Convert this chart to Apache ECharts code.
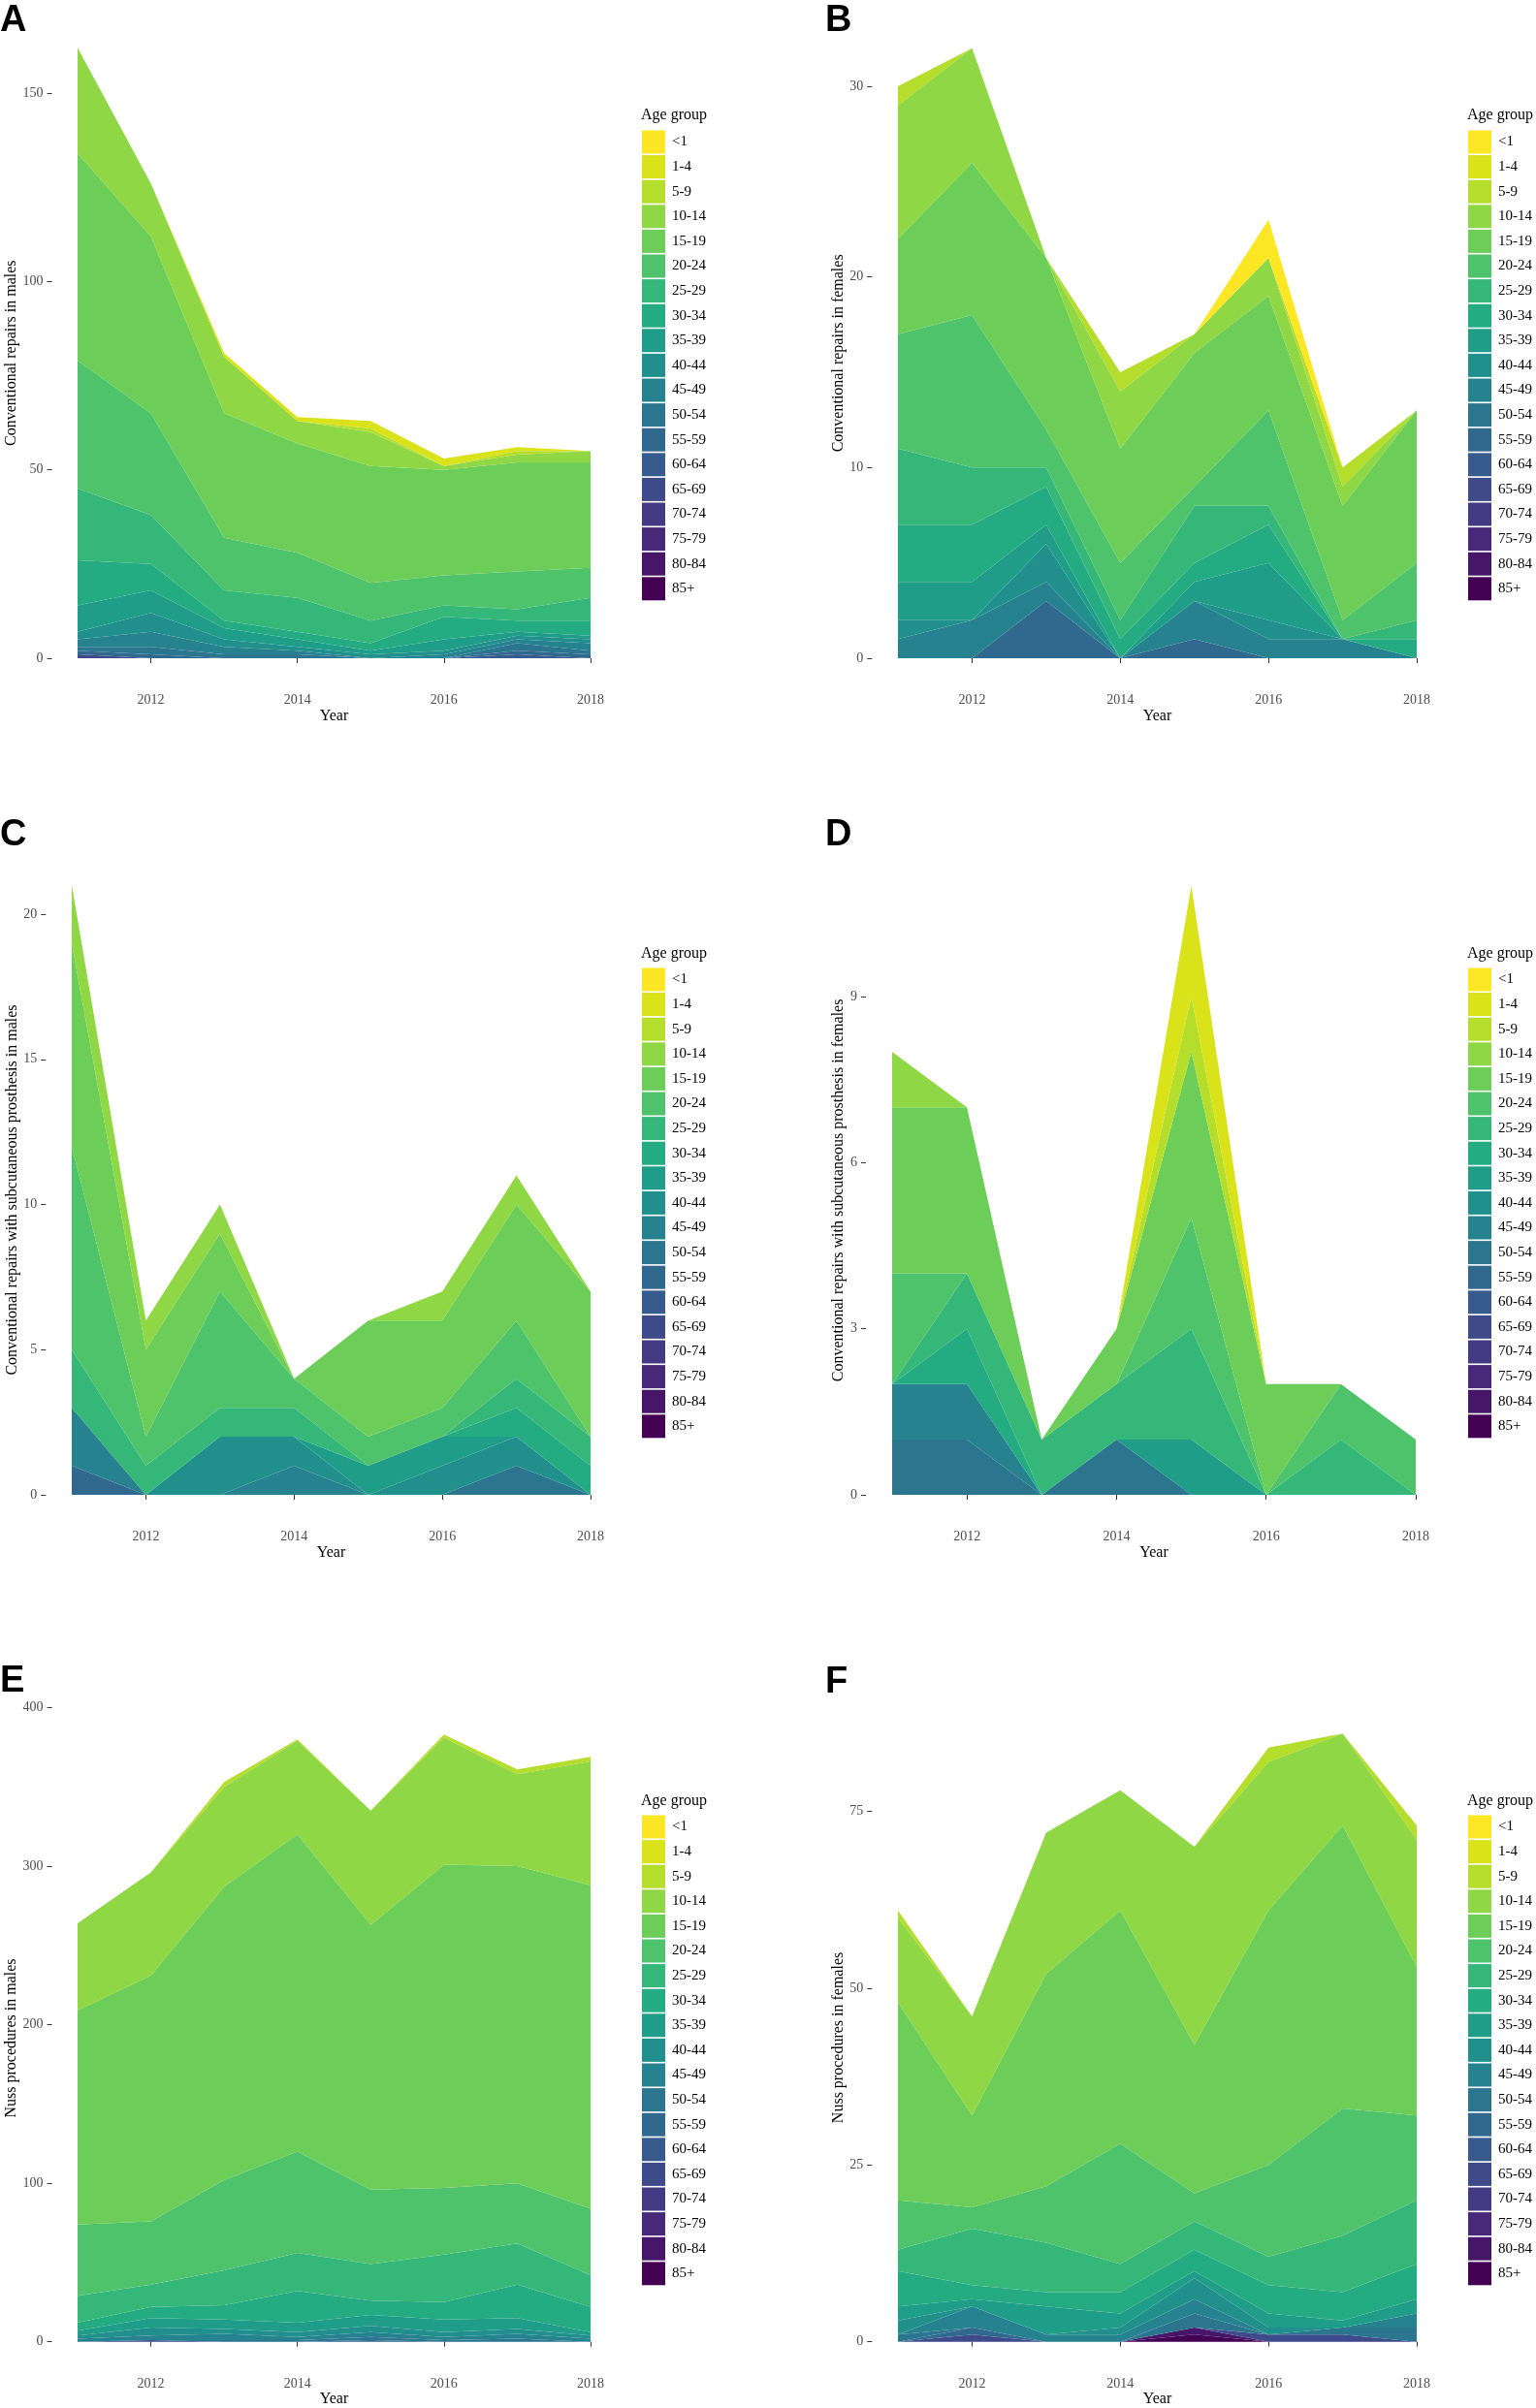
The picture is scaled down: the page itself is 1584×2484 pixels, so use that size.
<!DOCTYPE html>
<html><head><meta charset="utf-8">
<script src="https://cdn.jsdelivr.net/npm/echarts@6/dist/echarts.min.js"></script>
<style>html,body{margin:0;padding:0;background:#fff}#c{width:1584px;height:2484px}</style>
</head><body><div id="c"></div>
<script>
const years = ['2011', '2012', '2013', '2014', '2015', '2016', '2017', '2018'];
const yearTicks = ['2012', '2014', '2016', '2018'];
const ageGroups = ['<1','1-4','5-9','10-14','15-19','20-24','25-29','30-34','35-39','40-44','45-49','50-54','55-59','60-64','65-69','70-74','75-79','80-84','85+'];
const ageColors = ['#FDE725','#DAE319','#B4DD2C','#8FD744','#6CCE59','#4EC36B','#35B779','#25AB82','#1F9D88','#21908D','#26828E','#2B758E','#31688E','#375B8D','#3E4A89','#443A83','#482878','#481668','#440154'];

// rows follow ageGroups order (<1 ... 85+), columns follow years
const malesConventional = [
  [0,0,0,0,0,0,0,0],
  [0,0,1,1,2,2,1,0],
  [0,0,0,0,1,0,1,0],
  [28,14,15,6,9,1,2,3],
  [55,47,33,29,31,28,29,28],
  [34,27,14,12,10,8,10,8],
  [19,13,8,9,6,3,3,6],
  [12,7,2,2,2,6,3,4],
  [7,6,3,2,1,3,1,1],
  [2,5,2,1,1,1,1,1],
  [2,4,2,1,0,1,1,2],
  [1,2,1,1,0,0,2,1],
  [1,1,0,0,0,0,1,1],
  [0,0,0,0,0,0,1,0],
  [1,0,0,0,0,0,0,0],
  [0,0,0,0,0,0,0,0],
  [0,0,0,0,0,0,0,0],
  [0,0,0,0,0,0,0,0],
  [0,0,0,0,0,0,0,0]
];
const femalesConventional = [
  [0,0,0,0,0,2,0,0],
  [0,0,0,0,0,0,0,0],
  [1,0,0,1,0,0,1,0],
  [7,6,0,3,1,2,1,0],
  [5,8,9,6,7,6,6,8],
  [6,8,2,3,1,5,1,3],
  [4,3,1,1,3,1,0,1],
  [3,3,2,1,1,2,0,1],
  [2,2,1,0,1,3,0,0],
  [1,0,2,0,0,1,0,0],
  [1,2,1,0,2,1,1,0],
  [0,0,0,0,0,0,0,0],
  [0,0,3,0,1,0,0,0],
  [0,0,0,0,0,0,0,0],
  [0,0,0,0,0,0,0,0],
  [0,0,0,0,0,0,0,0],
  [0,0,0,0,0,0,0,0],
  [0,0,0,0,0,0,0,0],
  [0,0,0,0,0,0,0,0]
];
const malesProsthesis = [
  [0,0,0,0,0,0,0,0],
  [0,0,0,0,0,0,0,0],
  [0,0,0,0,0,0,0,0],
  [2,1,1,0,0,1,1,0],
  [7,3,2,0,4,3,4,5],
  [7,1,4,1,1,1,2,0],
  [2,1,1,1,0,0,1,1],
  [0,0,0,0,0,0,1,1],
  [0,0,0,0,1,1,0,0],
  [0,0,2,1,0,1,1,0],
  [2,0,0,1,0,0,0,0],
  [0,0,0,0,0,0,1,0],
  [1,0,0,0,0,0,0,0],
  [0,0,0,0,0,0,0,0],
  [0,0,0,0,0,0,0,0],
  [0,0,0,0,0,0,0,0],
  [0,0,0,0,0,0,0,0],
  [0,0,0,0,0,0,0,0],
  [0,0,0,0,0,0,0,0]
];
const femalesProsthesis = [
  [0,0,0,0,0,0,0,0],
  [0,0,0,0,2,0,0,0],
  [0,0,0,0,1,0,0,0],
  [1,0,0,0,0,0,0,0],
  [3,3,0,1,3,2,0,0],
  [2,0,0,0,2,0,1,1],
  [0,1,1,1,2,0,1,0],
  [0,1,0,0,0,0,0,0],
  [0,0,0,0,1,0,0,0],
  [0,0,0,0,0,0,0,0],
  [1,1,0,0,0,0,0,0],
  [1,1,0,1,0,0,0,0],
  [0,0,0,0,0,0,0,0],
  [0,0,0,0,0,0,0,0],
  [0,0,0,0,0,0,0,0],
  [0,0,0,0,0,0,0,0],
  [0,0,0,0,0,0,0,0],
  [0,0,0,0,0,0,0,0],
  [0,0,0,0,0,0,0,0]
];
const malesNuss = [
  [0,0,0,0,0,0,0,0],
  [0,0,0,0,0,0,0,0],
  [0,0,3,1,0,2,3,3],
  [55,65,63,59,72,80,58,78],
  [135,155,185,200,167,204,200,204],
  [45,40,57,64,47,42,38,42],
  [17,14,22,24,23,30,26,20],
  [5,7,9,20,9,11,21,16],
  [3,6,6,6,7,8,7,2],
  [2,5,3,3,4,3,3,2],
  [2,3,4,2,3,2,3,2],
  [0,0,1,1,2,1,2,0],
  [0,0,0,0,1,0,0,0],
  [0,0,0,0,0,0,0,0],
  [0,1,0,0,0,0,0,0],
  [0,0,0,0,0,0,0,0],
  [0,0,0,0,0,0,0,0],
  [0,0,0,0,0,0,0,0],
  [0,0,0,0,0,0,0,0]
];
const femalesNuss = [
  [0,0,0,0,0,0,0,0],
  [0,0,0,0,0,0,0,0],
  [1,0,0,0,0,2,0,2],
  [12,14,20,17,28,21,13,18],
  [28,13,30,33,21,36,40,21],
  [7,3,8,17,4,13,18,12],
  [3,8,7,4,4,4,8,9],
  [5,2,2,3,3,4,4,5],
  [2,1,4,2,1,2,1,2],
  [2,0,0,1,3,1,0,0],
  [0,3,1,1,2,0,0,2],
  [1,0,0,0,2,0,1,2],
  [0,1,0,0,0,0,0,0],
  [0,0,0,0,0,0,0,0],
  [0,1,0,0,0,1,1,0],
  [0,0,0,0,0,0,0,0],
  [0,0,0,0,0,0,0,0],
  [0,0,0,0,1,0,0,0],
  [0,0,0,0,1,0,0,0]
];

const ticksA = [0, 50, 100, 150];
const ticksB = [0, 10, 20, 30];
const ticksC = [0, 5, 10, 15, 20];
const ticksD = [0, 3, 6, 9];
const ticksE = [0, 100, 200, 300, 400];
const ticksF = [0, 25, 50, 75];

const panelLetters = ['A', 'B', 'C', 'D', 'E', 'F'];
const yTitles = [
  'Conventional repairs in males',
  'Conventional repairs in females',
  'Conventional repairs with subcutaneous prosthesis in males',
  'Conventional repairs with subcutaneous prosthesis in females',
  'Nuss procedures in males',
  'Nuss procedures in females'
];

// layout anchors (pixels)
const panels = [
  {data: malesConventional,   ticks: ticksA, x0: 80,  x1: 609,  y0: 679,    refV: 150, refP: 96,     gap: 28,   lx: 662,  ty: 120,  fy: 146.5,  px: 0,   py: 21.5},
  {data: femalesConventional, ticks: ticksB, x0: 926, x1: 1461, y0: 679,    refV: 30,  refP: 89,     gap: 22,   lx: 1514, ty: 120,  fy: 146.5,  px: 851, py: 21.5},
  {data: malesProsthesis,     ticks: ticksC, x0: 74,  x1: 609,  y0: 1542,   refV: 20,  refP: 943,    gap: 22,   lx: 662,  ty: 985,  fy: 1010.5, px: 0,   py: 862},
  {data: femalesProsthesis,   ticks: ticksD, x0: 920, x1: 1460, y0: 1542,   refV: 9,   refP: 1028,   gap: 15.5, lx: 1514, ty: 985,  fy: 1010.5, px: 851, py: 862},
  {data: malesNuss,           ticks: ticksE, x0: 80,  x1: 609,  y0: 2418.5, refV: 400, refP: 1761.5, gap: 28,   lx: 662,  ty: 1859, fy: 1884.5, px: 0,   py: 1735},
  {data: femalesNuss,         ticks: ticksF, x0: 926, x1: 1461, y0: 2418.5, refV: 75,  refP: 1869,   gap: 23,   lx: 1514, ty: 1859, fy: 1884.5, px: 851, py: 1736}
];

const serif = 'Liberation Serif';
const isTickYear = (idx, val) => yearTicks.indexOf(String(val)) >= 0;
const grids = [], xAxes = [], yAxes = [], series = [], legends = [], graphics = [];

panels.forEach((p, k) => {
  const totals = years.map((_, i) => p.data.reduce((s, row) => s + row[i], 0));
  const M = Math.max(...totals);
  const ppu = (p.y0 - p.refP) / p.refV;
  const ppy = (p.x1 - p.x0) / (years.length - 1);
  const yMin = -0.05 * M, yMax = 1.05 * M;
  const expandX = 0.35 * ppy;
  grids.push({left: p.x0, width: p.x1 - p.x0, top: p.y0 - yMax * ppu, height: (yMax - yMin) * ppu, containLabel: false});
  xAxes.push({
    type: 'category', gridIndex: k, data: years, boundaryGap: false,
    axisLine: {show: false}, splitLine: {show: false},
    axisTick: {show: true, interval: isTickYear, alignWithLabel: true, length: 5, lineStyle: {color: '#333', width: 1}},
    axisLabel: {interval: isTickYear, color: '#4D4D4D', fontFamily: serif, fontSize: 14, margin: 5},
    name: 'Year', nameLocation: 'middle', nameGap: 20,
    nameTextStyle: {color: '#000', fontFamily: serif, fontSize: 16}
  });
  yAxes.push({
    type: 'value', gridIndex: k, min: yMin, max: yMax, offset: expandX,
    axisLine: {show: false}, splitLine: {show: false},
    axisTick: {show: true, customValues: p.ticks, length: 5, lineStyle: {color: '#333', width: 1}},
    axisLabel: {customValues: p.ticks, formatter: v => String(v), color: '#4D4D4D', fontFamily: serif, fontSize: 14, margin: 9},
    name: yTitles[k], nameLocation: 'middle', nameGap: p.gap,
    nameTextStyle: {color: '#000', fontFamily: serif, fontSize: 16}
  });
  for (let g = ageGroups.length - 1; g >= 0; g--) {
    series.push({
      type: 'line', name: ageGroups[g], xAxisIndex: k, yAxisIndex: k, stack: 'p' + k,
      data: p.data[g],
      color: ageColors[g], itemStyle: {color: ageColors[g]},
      lineStyle: {width: 0}, areaStyle: {color: ageColors[g], opacity: 1},
      symbol: 'none', showSymbol: false, silent: true, animation: false
    });
  }
  legends.push({
    orient: 'vertical', left: p.lx, top: p.fy - 12, padding: 0, itemWidth: 24, itemHeight: 24, itemGap: 1.6,
    icon: 'rect', data: ageGroups, selectedMode: false,
    itemStyle: {borderWidth: 0},
    textStyle: {fontFamily: serif, fontSize: 15, color: '#000', padding: [0, 0, 0, 2]}
  });
  graphics.push({type: 'text', left: p.px, top: p.py - 19, style: {text: panelLetters[k], font: 'bold 38px "Liberation Sans"', fill: '#000'}});
  graphics.push({type: 'text', left: p.lx - 1, top: p.ty - 9, style: {text: 'Age group', font: '16px "Liberation Serif"', fill: '#000'}});
});

const chart = echarts.init(document.getElementById('c'), null, {renderer: 'canvas'});
chart.setOption({
  backgroundColor: '#fff', animation: false,
  grid: grids, xAxis: xAxes, yAxis: yAxes, series: series, legend: legends, graphic: graphics
});
</script></body></html>
